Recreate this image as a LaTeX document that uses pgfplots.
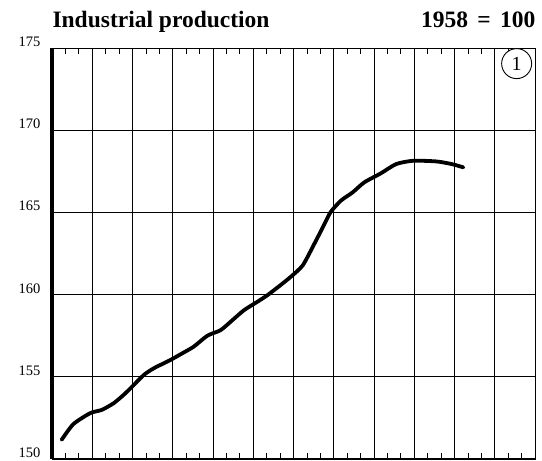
\documentclass[border=0pt]{standalone}
\usepackage{fontspec}
\setmainfont{Liberation Serif}
\usepackage{pgfplots}
\pgfplotsset{compat=1.18}
\begin{document}
\begin{tikzpicture}[x=1pt,y=1pt]
\path[use as bounding box] (0,0) rectangle (542,461);
\begin{axis}[
  at={(52pt,2pt)}, anchor=south west, scale only axis,
  width=483pt, height=411pt,
  xmin=0, xmax=12, ymin=150, ymax=175,
  xtick={0,...,12}, xticklabels={}, minor x tick num=2,
  ytick={150,155,...,175},
  grid=major, major grid style={black, line width=0.7pt},
  tick align=inside, tick pos=both,
  ytick style={draw=none},
  xtick style={black, line width=0.7pt},
  minor tick length=6pt, major tick length=0pt,
  axis line style={black, line width=0.8pt},
  yticklabel style={font=\fontsize{14.5}{15}\selectfont, anchor=base east, xshift=-8pt, yshift=1.5pt},
  /pgf/number format/assume math mode=true,
  clip=false,
]
\addplot[black, line width=3.8pt, smooth, tension=0.4, line cap=round, line join=round] coordinates {
(0.24,151.17) (0.53,152.12) (0.95,152.79) (1.24,152.99) (1.53,153.39) (1.78,153.90)
(1.99,154.40) (2.28,155.11) (2.53,155.52) (2.94,156.02) (3.23,156.42) (3.52,156.83)
(3.86,157.50) (4.19,157.84) (4.48,158.44) (4.77,159.05) (5.10,159.56) (5.35,159.96)
(5.69,160.60) (5.94,161.10) (6.23,161.78) (6.52,163.10) (6.73,164.10) (6.92,165.01)
(7.18,165.72) (7.47,166.22) (7.76,166.83) (8.18,167.39) (8.55,167.94) (8.97,168.14)
(9.55,168.10) (9.93,167.94) (10.22,167.74)
};
\draw[line width=3.6pt] (rel axis cs:0,0) -- (rel axis cs:0,1);
\draw[line width=2.5pt] (rel axis cs:0,0) -- (rel axis cs:1,0);
\node[draw, circle, line width=0.9pt, minimum size=30pt, inner sep=0pt, fill=white,
  font=\fontsize{20}{20}\selectfont] at (rel axis cs:0.962,0.962) {1};
\end{axis}
\node[anchor=base west, font=\bfseries\fontsize{23.5}{24}\selectfont] at (49,433) {Industrial production};
\node[anchor=base east, font=\bfseries\fontsize{23.5}{24}\selectfont] at (539,433) {1958\hspace{0.4em}=\hspace{0.4em}100};
\end{tikzpicture}
\end{document}
